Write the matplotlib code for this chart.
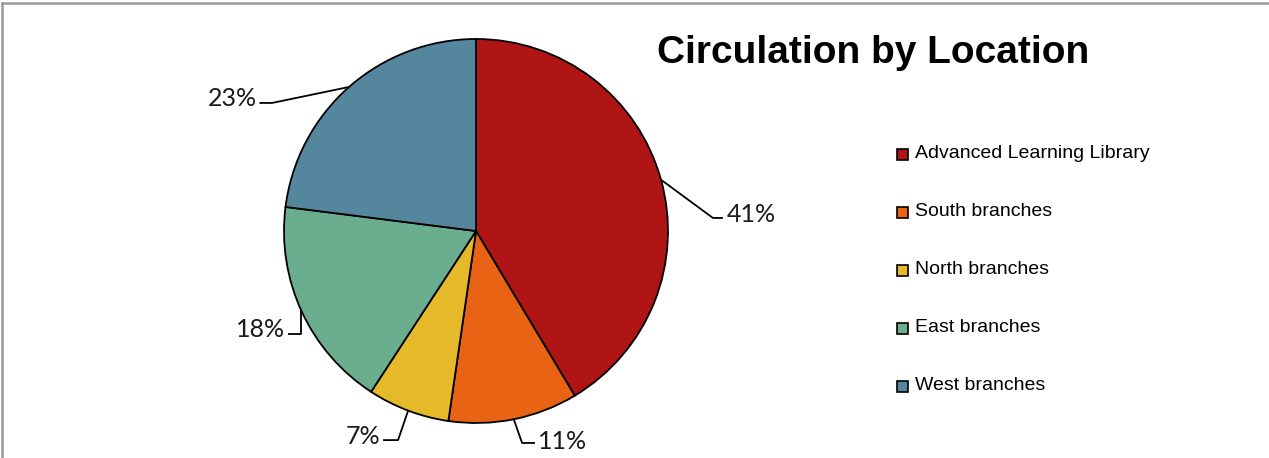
import matplotlib
matplotlib.use("Agg")
import matplotlib.pyplot as plt
from matplotlib.lines import Line2D
from matplotlib.patches import Rectangle
import numpy as np

# ---- data ----
categories = ["Advanced Learning Library", "South branches", "North branches",
              "East branches", "West branches"]
shares = [41.4, 10.9, 6.9, 17.8, 23.0]
colors = ["#B01515", "#E86314", "#E6B92A", "#6BAE8F", "#54869E"]
title = "Circulation by Location"

W, H = 1269, 458
fig = plt.figure(figsize=(W / 100, H / 100), dpi=100)
fig.patch.set_facecolor("white")

# pie axes placed in pixel box (center 476,231 ; radius 192)
cx, cy, R = 476, 231, 192
ax = fig.add_axes([(cx - R) / W, (H - cy - R) / H, 2 * R / W, 2 * R / H])

wedges, _ = ax.pie(shares, colors=colors, startangle=90, counterclock=False,
                   radius=1.0, wedgeprops=dict(edgecolor="black", linewidth=1.3))
ax.set_xlim(-1, 1)
ax.set_ylim(-1, 1)
ax.set_aspect("equal")
ax.axis("off")

# label layout: (anchor angle offset deg, elbow xy, end xy, text xy, ha)
layout = [
    (0.0, (1.234, 0.068), (1.286, 0.068), (1.305, 0.085), "left"),
    (0.0, (0.240, -1.104), (0.307, -1.104), (0.325, -1.095), "left"),
    (0.0, (-0.406, -1.089), (-0.484, -1.089), (-0.497, -1.070), "right"),
    (-0.7, None, (-0.979, -0.536), (-0.992, -0.512), "right"),
    (0.0, (-1.062, 0.667), (-1.128, 0.667), (-1.140, 0.690), "right"),
]

for w, v, (off, elbow, end, txt, ha) in zip(wedges, shares, layout):
    ang = np.deg2rad((w.theta1 + w.theta2) / 2 + off)
    ax_ = np.cos(ang)
    ay_ = np.sin(ang)
    if elbow is None:
        elbow = (ax_, end[1])
    xs = [ax_, elbow[0], end[0]]
    ys = [ay_, elbow[1], end[1]]
    ax.add_line(Line2D(xs, ys, color="black", lw=1.3, clip_on=False,
                       solid_capstyle="butt"))
    ax.text(txt[0], txt[1], f"{v:.0f}%", ha=ha, va="center", fontsize=18,
            family=["Lato", "DejaVu Sans"], fontweight="normal", color="#1a1a1a",
            clip_on=False)

# title
fig.text(657 / W, 1 - 53 / H, title, ha="left", va="center", fontsize=28,
         fontweight="bold", family=["Liberation Sans", "DejaVu Sans"])

# legend (manual)
y0, dy = 154, 58
for i, (lab, c) in enumerate(zip(categories, colors)):
    y = y0 + i * dy
    fig.patches.append(Rectangle(((897) / W, 1 - (y + 6) / H), 11 / W, 11 / H,
                                 transform=fig.transFigure, facecolor=c,
                                 edgecolor="black", linewidth=1.2))
    fig.text(915 / W, 1 - y / H, lab, ha="left", va="center", fontsize=14,
             family=["Liberation Sans", "DejaVu Sans"])

# border
fig.lines.append(Line2D([2 / W, 1], [1 - 3 / H, 1 - 3 / H], transform=fig.transFigure,
                        color="#999999", lw=1.8))
fig.lines.append(Line2D([2.5 / W, 2.5 / W], [0, 1 - 3 / H], transform=fig.transFigure,
                        color="#999999", lw=1.8))

fig.savefig("out.png", dpi=100)
